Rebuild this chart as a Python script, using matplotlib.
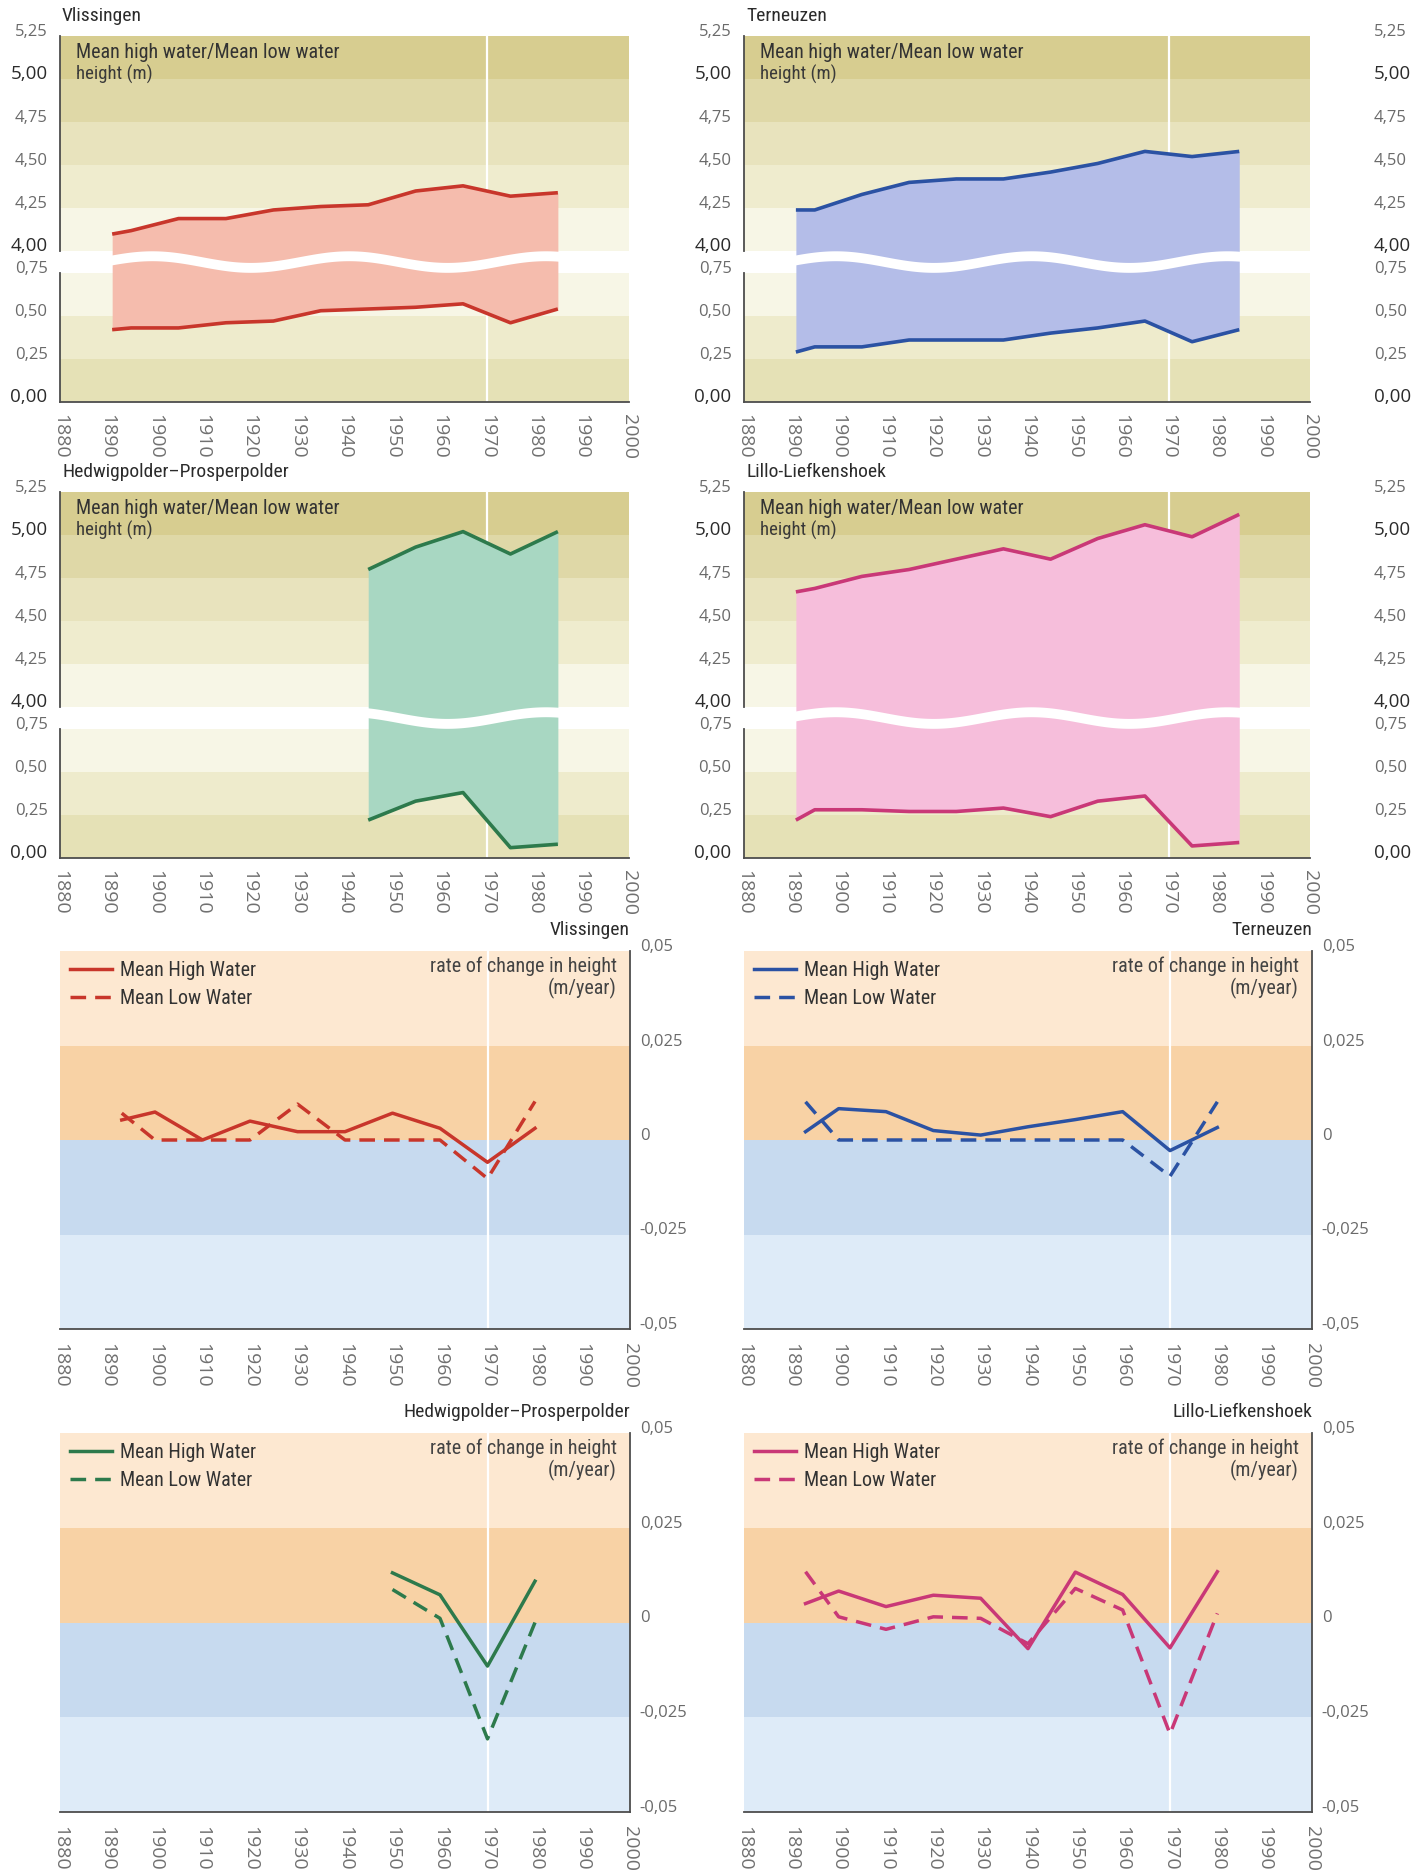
import numpy as np
import matplotlib
matplotlib.use("Agg")
import matplotlib.pyplot as plt
from matplotlib import font_manager
from matplotlib.lines import Line2D
from matplotlib.patches import Polygon
from matplotlib.transforms import blended_transform_factory

# decade means of high / low water (m)
height_years = [1891, 1895, 1905, 1915, 1925, 1935, 1945, 1955, 1965, 1975, 1985]
vlissingen_mhw = [4.10, 4.12, 4.19, 4.19, 4.24, 4.26, 4.27, 4.35, 4.38, 4.32, 4.34]
vlissingen_mlw = [0.42, 0.43, 0.43, 0.46, 0.47, 0.53, 0.54, 0.55, 0.57, 0.46, 0.54]
terneuzen_mhw = [4.24, 4.24, 4.33, 4.40, 4.42, 4.42, 4.46, 4.51, 4.58, 4.55, 4.58]
terneuzen_mlw = [0.29, 0.32, 0.32, 0.36, 0.36, 0.36, 0.40, 0.43, 0.47, 0.35, 0.42]
hedwig_years = [1945, 1955, 1965, 1975, 1985]
hedwig_mhw = [4.80, 4.93, 5.02, 4.89, 5.02]
hedwig_mlw = [0.22, 0.33, 0.38, 0.06, 0.08]
lillo_mhw = [4.67, 4.69, 4.76, 4.80, 4.86, 4.92, 4.86, 4.98, 5.06, 4.99, 5.12]
lillo_mlw = [0.22, 0.28, 0.28, 0.27, 0.27, 0.29, 0.24, 0.33, 0.36, 0.07, 0.09]

# rate of change (m/year)
rate_years = [1893, 1900, 1910, 1920, 1930, 1940, 1950, 1960, 1970, 1980]
vlissingen_rate_mhw = [0.0053, 0.0074, 0.0, 0.0050, 0.0022, 0.0022, 0.0071, 0.0031, -0.0059, 0.0031]
vlissingen_rate_mlw = [0.0071, 0.0, 0.0, 0.0, 0.0095, 0.0, 0.0, 0.0, -0.0102, 0.0102]
terneuzen_rate_mhw = [0.0022, 0.0083, 0.0075, 0.0025, 0.0013, 0.0035, 0.0054, 0.0075, -0.0028, 0.0033]
terneuzen_rate_mlw = [0.0101, 0.0, 0.0, 0.0, 0.0, 0.0, 0.0, 0.0, -0.0096, 0.0101]
hedwig_rate_years = [1950, 1960, 1970, 1980]
hedwig_rate_mhw = [0.0131, 0.0073, -0.0115, 0.0109]
hedwig_rate_mlw = [0.0087, 0.0011, -0.0307, 0.0]
lillo_rate_mhw = [0.0050, 0.0083, 0.0042, 0.0072, 0.0064, -0.0069, 0.0133, 0.0074, -0.0067, 0.0134]
lillo_rate_mlw = [0.0134, 0.0015, -0.0018, 0.0015, 0.0011, -0.0056, 0.0090, 0.0033, -0.0294, 0.0024]

height_ticks = [0.0, 0.25, 0.5, 0.75, 4.0, 4.25, 4.5, 4.75, 5.0, 5.25]
height_labels = ["0,00", "0,25", "0,50", "0,75", "4,00", "4,25", "4,50", "4,75", "5,00", "5,25"]
rate_ticks = [-0.05, -0.025, 0.0, 0.025, 0.05]
rate_labels = ["-0,05", "-0,025", "0", "0,025", "0,05"]
year_ticks = list(range(1880, 2001, 10))

W, H = 1414, 1873
NUM = ["Open Sans", "DejaVu Sans"]


def pick_condensed():
    # narrow face for the captions, whatever is installed
    fonts = font_manager.fontManager.ttflist
    names = {f.name for f in fonts}
    for name in ["Liberation Sans Narrow", "Roboto Condensed", "Open Sans Condensed",
                 "Noto Sans Condensed", "DejaVu Sans Condensed"]:
        if name in names:
            return {"family": name}, 1.0
    for fam in ["Noto Sans", "Open Sans", "DejaVu Sans", "Roboto"]:
        for f in fonts:
            if f.name == fam and str(f.stretch) in ("condensed", "semi-condensed", "500", "600"):
                return {"family": fam, "stretch": f.stretch}, 1.0
    return {"family": "Roboto"}, 0.93


COND, CSCALE = pick_condensed()

# broken height axis: 0-0.75 and 4.00-5.25, squeezed gap between them
STEP, GAP, LO_TOP, HI_BOT = 0.25, 0.5, 0.75, 4.0


def fwd(v):
    v = np.asarray(v, dtype=float)
    return np.where(v <= LO_TOP, v / STEP,
                    np.where(v >= HI_BOT, LO_TOP / STEP + GAP + (v - HI_BOT) / STEP,
                             LO_TOP / STEP + (v - LO_TOP) / (HI_BOT - LO_TOP) * GAP))


def inv(p):
    p = np.asarray(p, dtype=float)
    p0 = LO_TOP / STEP
    return np.where(p <= p0, p * STEP,
                    np.where(p >= p0 + GAP, HI_BOT + (p - p0 - GAP) * STEP,
                             LO_TOP + (p - p0) / GAP * (HI_BOT - LO_TOP)))


fig = plt.figure(figsize=(W / 100, H / 100), dpi=100)
fig.patch.set_facecolor("white")


def px_axes(x0, y0, x1, y1):
    return fig.add_axes([x0 / W, 1 - y1 / H, (x1 - x0) / W, (y1 - y0) / H])


def ctext(x, y, s, size, **kw):
    fig.text(x / W, 1 - y / H, s, fontsize=size * CSCALE, **COND, **kw)


def year_axis(ax, pad):
    ax.set_xlim(1880, 2000)
    ax.set_xticks(year_ticks)
    ax.set_xticklabels([str(y) for y in year_ticks], rotation=270, ha="center", va="top",
                       fontsize=14, color="#707070", family=NUM)
    ax.tick_params(axis="x", length=0, pad=pad)
    ax.axvline(1970, color="white", lw=1.6, zorder=0.6)


def height_panel(box, years, mhw, mlw, line_c, fill_c, title, right_labels=False):
    ax = px_axes(*box)
    ax.set_yscale("function", functions=(fwd, inv))
    ax.set_ylim(0, 5.25)
    year_axis(ax, 9)

    bands = [(5.0, 5.25, "#d7cd90"), (4.75, 5.0, "#dfd8a7"), (4.5, 4.75, "#e8e3bd"),
             (4.25, 4.5, "#efecce"), (4.0, 4.25, "#f7f6e6"), (0.75, 4.0, "white"),
             (0.5, 0.75, "#f7f6e6"), (0.25, 0.5, "#eeebcc"), (0.0, 0.25, "#e5e1b6")]
    for lo, hi, c in bands:
        ax.axhspan(lo, hi, color=c, lw=0, zorder=0)

    ax.fill_between(years, mlw, mhw, color=fill_c, lw=0, zorder=1)
    ax.plot(years, mhw, color=line_c, lw=2.6, solid_capstyle="butt", zorder=3)
    ax.plot(years, mlw, color=line_c, lw=2.6, solid_capstyle="butt", zorder=3)

    # white wavy stripe marking the break
    total = float(fwd(5.25))
    xs = np.linspace(1880, 2000, 300)
    mid = 3.25 + 0.135 * np.cos(2 * np.pi * (xs - 1899.5) / 41.5)
    top = (mid + 0.115) / total
    bot = (mid - 0.115) / total
    verts = np.vstack([np.column_stack([xs, top]), np.column_stack([xs[::-1], bot[::-1]])])
    ax.add_patch(Polygon(verts, closed=True, color="white", lw=0, zorder=2,
                         transform=ax.get_xaxis_transform()))

    for s in ["top", "right", "left"]:
        ax.spines[s].set_visible(False)
    ax.spines["bottom"].set_color("#4d4d4d")
    ax.spines["bottom"].set_linewidth(1.3)
    for y0, y1 in [(0, 3.0 / total), (3.5 / total, 1)]:
        ax.add_line(Line2D([0, 0], [y0, y1], color="#4d4d4d", lw=1.3,
                           transform=ax.transAxes, clip_on=False))

    ax.set_yticks(height_ticks)
    ax.set_yticklabels(height_labels, va="baseline", family=NUM, fontsize=12, color="#6a6a6a")
    ax.tick_params(axis="y", length=0, pad=9)
    for lab in ax.get_yticklabels():
        if lab.get_text() in ("5,00", "4,00", "0,00"):
            lab.set_color("#2b2b2b")
            lab.set_fontsize(13.5)

    if right_labels:
        tr = blended_transform_factory(ax.transAxes, ax.transData)
        for v, s in zip(height_ticks, height_labels):
            strong = s in ("5,00", "4,00", "0,00")
            ax.text(1 + 64 / (box[2] - box[0]), v, s, transform=tr, ha="left", va="baseline",
                    family=NUM, fontsize=13.5 if strong else 12,
                    color="#2b2b2b" if strong else "#6a6a6a")

    x0, y0 = box[0], box[1]
    ctext(x0 + 2, y0 - 20, title, 14, color="#2b2b2b", va="center")
    ctext(x0 + 16, y0 + 16, "Mean high water/Mean low water", 14.5, color="#333333",
          va="center")
    ctext(x0 + 16, y0 + 38, "height (m)", 13.5, color="#3a3a3a", va="center")
    return ax


def rate_panel(box, years, mhw, mlw, color, title):
    ax = px_axes(*box)
    ax.set_ylim(-0.05, 0.05)
    year_axis(ax, 10)

    bands = [(0.025, 0.05, "#fde8d1"), (0.0, 0.025, "#f8d2a5"),
             (-0.025, 0.0, "#c7daef"), (-0.05, -0.025, "#deebf8")]
    for lo, hi, c in bands:
        ax.axhspan(lo, hi, color=c, lw=0, zorder=0)

    l1, = ax.plot(years, mhw, color=color, lw=2.5, zorder=3, label="Mean High Water")
    l2, = ax.plot(years, mlw, color=color, lw=2.5, ls=(0, (4.5, 2.6)), zorder=3,
                  label="Mean Low Water")

    ax.spines["top"].set_visible(False)
    ax.spines["left"].set_visible(False)
    for s in ["bottom", "right"]:
        ax.spines[s].set_color("#4d4d4d")
        ax.spines[s].set_linewidth(1.3)
    ax.yaxis.tick_right()
    ax.set_yticks(rate_ticks)
    ax.set_yticklabels(rate_labels, va="baseline", family=NUM, fontsize=12, color="#6a6a6a")
    ax.tick_params(axis="y", length=0, pad=7)

    prop = dict(size=14.5 * CSCALE, **COND)
    leg = ax.legend(handles=[l1, l2], loc="upper left", bbox_to_anchor=(0.0, 1.0),
                    frameon=False, handlelength=2.1, handletextpad=0.4, labelspacing=0.45,
                    borderaxespad=0.2, borderpad=0.3, prop=prop)
    for t in leg.get_texts():
        t.set_color("#333333")

    x1, y0 = box[2], box[1]
    ctext(x1, y0 - 21, title, 14, color="#2b2b2b", ha="right", va="center")
    ctext(x1 - 13, y0 + 15, "rate of change in height", 14.5, color="#444444",
          ha="right", va="center")
    ctext(x1 - 13, y0 + 37, "(m/year)", 14.5, color="#444444", ha="right", va="center")
    return ax


height_panel((60, 36, 629, 402), height_years, vlissingen_mhw, vlissingen_mlw,
             "#c8362b", "#f5bcad", "Vlissingen")
height_panel((744, 36, 1310, 402), height_years, terneuzen_mhw, terneuzen_mlw,
             "#2b52a3", "#b4bde8", "Terneuzen", right_labels=True)
height_panel((60, 492, 629, 858), hedwig_years, hedwig_mhw, hedwig_mlw,
             "#2d7a4c", "#a8d7c2", "Hedwigpolder\u2013Prosperpolder")
height_panel((744, 492, 1310, 858), height_years, lillo_mhw, lillo_mlw,
             "#c93877", "#f6bedb", "Lillo-Liefkenshoek", right_labels=True)

rate_panel((60, 951, 630, 1329), rate_years, vlissingen_rate_mhw, vlissingen_rate_mlw,
           "#c8362b", "Vlissingen")
rate_panel((744, 951, 1312, 1329), rate_years, terneuzen_rate_mhw, terneuzen_rate_mlw,
           "#2b52a3", "Terneuzen")
rate_panel((60, 1433, 630, 1812), hedwig_rate_years, hedwig_rate_mhw, hedwig_rate_mlw,
           "#2d7a4c", "Hedwigpolder\u2013Prosperpolder")
rate_panel((744, 1433, 1312, 1812), rate_years, lillo_rate_mhw, lillo_rate_mlw,
           "#c93877", "Lillo-Liefkenshoek")

fig.savefig("out.png", dpi=100, facecolor="white")
